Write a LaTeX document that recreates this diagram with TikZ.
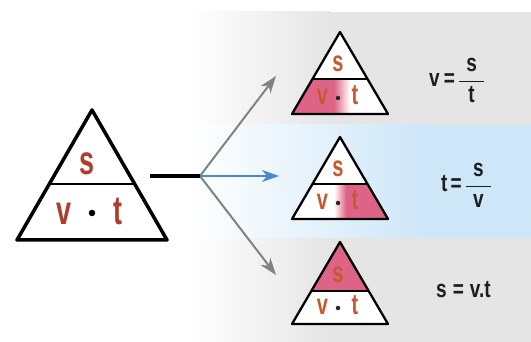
\documentclass[tikz,border=0pt]{standalone}
\usepackage{fontspec}
\setmainfont{Liberation Sans}
\usetikzlibrary{arrows.meta}
\definecolor{bggray}{RGB}{229,229,229}
\definecolor{bgblue}{RGB}{205,230,248}
\definecolor{bigred}{RGB}{176,60,45}
\definecolor{smallred}{RGB}{200,88,45}
\definecolor{pinkfill}{RGB}{222,100,135}
\definecolor{arrowgray}{RGB}{130,130,130}
\definecolor{arrowblue}{RGB}{70,140,205}
\definecolor{formulacol}{RGB}{30,30,30}
\newcommand{\tallbig}[1]{\scalebox{1}[1.5]{#1}}
\newcommand{\tallsmall}[1]{\scalebox{1}[1.45]{#1}}
\newcommand{\tallform}[1]{\scalebox{1}[1.3]{#1}}
\newcommand{\fracpart}[1]{\hbox to 25pt{\hfil #1\hfil}}
\begin{document}
\begin{tikzpicture}[x=1pt,y=-1pt,
  bigletter/.style={text=bigred, font=\fontsize{27}{27}\selectfont\bfseries, inner sep=0pt, anchor=base},
  smallletter/.style={text=smallred, font=\fontsize{20}{20}\selectfont\bfseries, inner sep=0pt, anchor=base},
  bigdot/.style={circle, fill=black, inner sep=0pt, minimum size=6.5pt},
  smalldot/.style={circle, fill=black!85, inner sep=0pt, minimum size=4.5pt},
  bigtri/.style={draw=black, line width=3.5pt, line join=round, fill=white},
  smalltri/.style={draw=black, line width=2.3pt, line join=round},
  bigdiv/.style={draw=black, line width=2pt},
  smalldiv/.style={draw=black, line width=1.5pt},
  formula/.style={text=formulacol, font=\fontsize{19}{19}\selectfont\bfseries, inner sep=0pt, anchor=base west},
  grayarrow/.style={draw=arrowgray, line width=2pt, -{Stealth[length=17pt,width=12pt,inset=5pt]}},
  bluearrow/.style={draw=arrowblue, line width=2pt, -{Stealth[length=17pt,width=12pt,inset=5pt]}},
  stem/.style={draw=black, line width=4pt}
]
\useasboundingbox (0,0) rectangle (531,342);
% background
\fill[white] (0,0) rectangle (531,342);
\shade[left color=white, right color=bggray] (190,12) rectangle (330,342);
\fill[bggray] (330,12) rectangle (531,342);
\shade[left color=white, right color=bgblue] (190,125) rectangle (430,238);
\fill[bgblue] (430,125) rectangle (531,238);

% big triangle
\coordinate (BA) at (92,110);
\coordinate (BL) at (17,240);
\coordinate (BR) at (167,240);
\coordinate (BDL) at (49.3,184);
\coordinate (BDR) at (134.7,184);
\path[bigtri] (BA) -- (BR) -- (BL) -- cycle;
\draw[bigdiv] (BDL) -- (BDR);
\node[bigletter] (bs) at (87.5,175) {\tallbig{s}};
\node[bigletter] (bv) at (64,225) {\tallbig{v}};
\node[bigletter] (bt) at (117.5,225) {\tallbig{t}};
\node[bigdot] (bd) at (92,213) {};

% connectors
\coordinate (S) at (150,176);
\coordinate (J) at (200,176);
\coordinate (E1) at (276,76);
\coordinate (E2) at (279,176);
\coordinate (E3) at (276,275);
\draw[grayarrow] (J) -- (E1);
\draw[grayarrow] (J) -- (E3);
\draw[bluearrow] (J) -- (E2);
\draw[stem] (S) -- (J);

% small triangle 1 (v)
\coordinate (T1a) at (340,32);
\coordinate (T1l) at (292,114);
\coordinate (T1r) at (388,114);
\coordinate (T1dl) at (312.5,79);
\coordinate (T1dr) at (367.5,79);
\fill[white] (T1a) -- (T1r) -- (T1l) -- cycle;
\begin{scope}
  \clip (T1dl) -- (T1dr) -- (T1r) -- (T1l) -- cycle;
  \fill[pinkfill] (288,78) rectangle (334,116);
  \shade[left color=pinkfill, right color=white] (334,78) rectangle (350,116);
\end{scope}
\node[smallletter] (s1) at (338,72) {\tallsmall{s}};
\node[smallletter] (v1) at (322.5,105) {\tallsmall{v}};
\node[smallletter] (t1) at (355,105) {\tallsmall{t}};
\node[smalldot] (d1) at (338,98) {};
\draw[smalltri] (T1a) -- (T1r) -- (T1l) -- cycle;
\draw[smalldiv] (T1dl) -- (T1dr);

% small triangle 2 (t)
\coordinate (T2a) at (340,137);
\coordinate (T2l) at (292,219);
\coordinate (T2r) at (388,219);
\coordinate (T2dl) at (312.5,184);
\coordinate (T2dr) at (367.5,184);
\fill[white] (T2a) -- (T2r) -- (T2l) -- cycle;
\begin{scope}
  \clip (T2dl) -- (T2dr) -- (T2r) -- (T2l) -- cycle;
  \shade[left color=white, right color=pinkfill] (334,183) rectangle (346,221);
  \fill[pinkfill] (346,183) rectangle (392,221);
\end{scope}
\node[smallletter] (s2) at (338,177) {\tallsmall{s}};
\node[smallletter] (v2) at (322.5,210) {\tallsmall{v}};
\node[smallletter] (t2) at (355,210) {\tallsmall{t}};
\node[smalldot] (d2) at (338,203) {};
\draw[smalltri] (T2a) -- (T2r) -- (T2l) -- cycle;
\draw[smalldiv] (T2dl) -- (T2dr);

% small triangle 3 (s)
\coordinate (T3a) at (340,242);
\coordinate (T3l) at (292,324);
\coordinate (T3r) at (388,324);
\coordinate (T3dl) at (311.3,291);
\coordinate (T3dr) at (368.7,291);
\fill[white] (T3a) -- (T3r) -- (T3l) -- cycle;
\fill[pinkfill] (T3a) -- (T3dr) -- (T3dl) -- cycle;
\node[smallletter] (s3) at (338,283) {\tallsmall{s}};
\node[smallletter] (v3) at (322.5,315) {\tallsmall{v}};
\node[smallletter] (t3) at (355,315) {\tallsmall{t}};
\node[smalldot] (d3) at (338,308) {};
\draw[smalltri] (T3a) -- (T3r) -- (T3l) -- cycle;
\draw[smalldiv] (T3dl) -- (T3dr);

% formulas
\node[formula] (f1) at (429,87) {\tallform{v\kern4pt=\kern3pt$\displaystyle\frac{\fracpart{s}}{\fracpart{t}}$}};
\node[formula] (f2) at (441,192) {\tallform{t\kern3pt=\kern3pt$\displaystyle\frac{\fracpart{s}}{\fracpart{v}}$}};
\node[formula] (f3) at (436,298) {\tallform{s\kern6pt=\kern6pt v.t}};
\end{tikzpicture}
\end{document}
